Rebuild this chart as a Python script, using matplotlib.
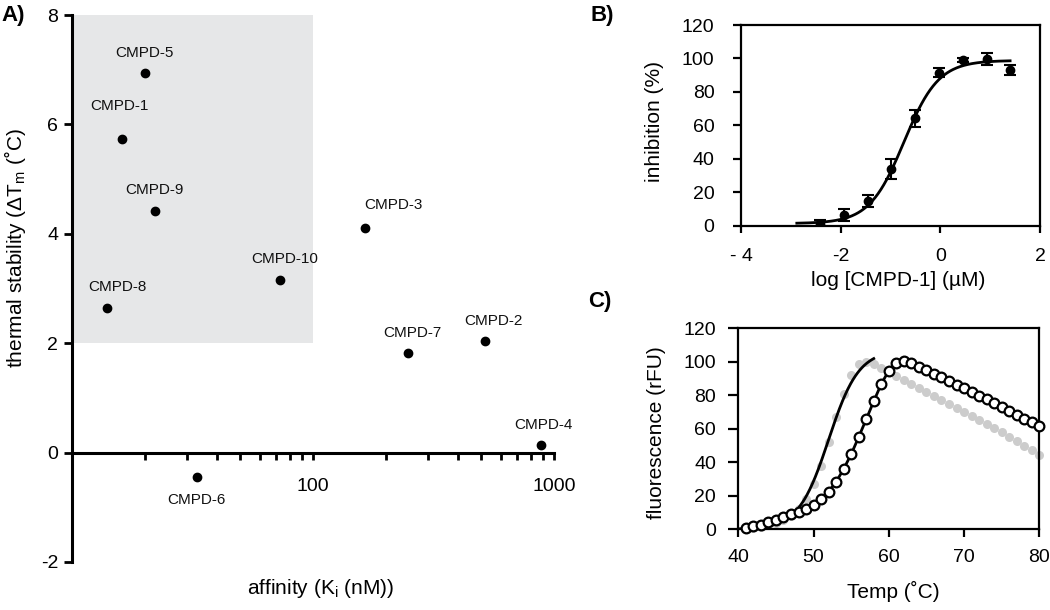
import numpy as np
import matplotlib
matplotlib.use("Agg")
import matplotlib.pyplot as plt
from matplotlib.ticker import FixedLocator, LogLocator, NullFormatter, FixedFormatter
from matplotlib.patches import Rectangle

plt.rcParams['font.family'] = ['Liberation Sans', 'DejaVu Sans']
plt.rcParams['axes.unicode_minus'] = False
plt.rcParams['mathtext.default'] = 'regular'

# ---------------- Panel A data ----------------
cmpd_names = ['CMPD-1', 'CMPD-2', 'CMPD-3', 'CMPD-4', 'CMPD-5',
              'CMPD-6', 'CMPD-7', 'CMPD-8', 'CMPD-9', 'CMPD-10']
ki_nM = [16.1, 515, 164, 881, 20.0, 33.1, 248, 14.0, 22.0, 73.0]
dtm_C = [5.74, 2.04, 4.11, 0.13, 6.94, -0.45, 1.82, 2.65, 4.42, 3.16]
label_offsets_px = [(-2, 33), (9, 20), (29, 23), (3, 20), (0, 20),
                    (-1, -23), (4, 20), (10, 21), (0, 21), (5, 21)]
shade_x = (10, 100)
shade_y = (2, 8)
a_yticks = [-2, 0, 2, 4, 6, 8]
a_xticks = [100, 1000]
a_xticklabels = ['100', '1000']

# ---------------- Panel B data ----------------
log_conc = [-2.41, -1.93, -1.46, -0.98, -0.50, -0.03, 0.45, 0.93, 1.40]
inhib = [1.0, 6.4, 14.8, 33.7, 64.2, 91.5, 99.1, 99.5, 93.1]
inhib_err = [2.5, 3.3, 3.7, 6.0, 5.0, 2.6, 1.0, 3.5, 3.0]
fit_b = dict(bottom=1.3, top=98.8, logic50=-0.73, hill=1.25, xmin=-2.88, xmax=1.40)
b_xticks = [-4, -2, 0, 2]
b_xticklabels = ['- 4', '-2', '0', '2']
b_yticks = [0, 20, 40, 60, 80, 100, 120]

# ---------------- Panel C data ----------------
temp = list(range(41, 81))
fluor_open = [1.0, 1.8, 2.8, 4.2, 5.8, 7.4, 9.0, 10.3, 12.3, 14.7,
              18.1, 22.5, 28.3, 36.0, 44.8, 55.1, 65.7, 76.4, 86.8, 94.7,
              99.5, 100.5, 99.1, 97.1, 95.1, 92.7, 90.7, 88.6, 86.4, 84.4,
              82.0, 79.6, 77.8, 75.6, 73.2, 70.6, 68.3, 66.1, 64.1, 61.9]
fluor_gray = [0.3, 0.8, 1.5, 2.5, 3.8, 5.5, 8.0, 12.0, 18.0, 27.0,
              38.0, 52.0, 67.0, 81.0, 92.0, 98.5, 100.0, 98.5, 96.3, 94.0,
              91.6, 89.3, 87.0, 84.6, 82.2, 79.8, 77.4, 75.0, 72.6, 70.2,
              67.8, 65.3, 62.8, 60.3, 57.8, 55.2, 52.6, 50.0, 47.3, 44.5]
open_fit_end = 62
fit_c = dict(bottom=0.0, top=107.0, tm=52.0, slope=2.0, xmin=40.0, xmax=58.0)
c_xticks = [40, 50, 60, 70, 80]
c_yticks = [0, 20, 40, 60, 80, 100, 120]

W, H = 1050, 610
fig = plt.figure(figsize=(W / 100, H / 100), dpi=100)


def rect(l, t, r, b):
    return [l / W, 1 - b / H, (r - l) / W, (b - t) / H]


def ftext(x, y, s, **kw):
    fig.text(x / W, 1 - y / H, s, ha='center', va='center', **kw)


# ================= Panel A =================
axA = fig.add_axes(rect(72, 15, 554, 562))
axA.set_xscale('log')
axA.set_xlim(10, 1000)
axA.set_ylim(-2, 8)
axA.add_patch(Rectangle((shade_x[0], shade_y[0]), shade_x[1] - shade_x[0],
                        shade_y[1] - shade_y[0], facecolor='#e6e7e8',
                        edgecolor='none', zorder=0))
axA.plot(ki_nM, dtm_C, 'o', color='black', ms=6, zorder=3, clip_on=False)
for name, x, y, off in zip(cmpd_names, ki_nM, dtm_C, label_offsets_px):
    axA.annotate(name, (x, y), xytext=off, textcoords='offset pixels',
                 ha='center', va='center', fontsize=11, color='#111111')
for s in ['top', 'right']:
    axA.spines[s].set_visible(False)
axA.spines['bottom'].set_position(('data', 0))
axA.spines['left'].set_linewidth(2.2)
axA.spines['bottom'].set_linewidth(2.2)
axA.xaxis.set_major_locator(FixedLocator(a_xticks))
axA.xaxis.set_major_formatter(FixedFormatter(a_xticklabels))
axA.xaxis.set_minor_locator(LogLocator(base=10, subs=range(2, 10)))
axA.xaxis.set_minor_formatter(NullFormatter())
axA.tick_params(axis='x', which='both', direction='out', length=5, width=2,
                labelsize=14, pad=13)
axA.set_yticks(a_yticks)
axA.set_yticklabels([str(v) for v in a_yticks])
axA.tick_params(axis='y', direction='out', length=6, width=2, labelsize=14, pad=4)
axA.patch.set_alpha(0)

ftext(15, 248, 'thermal stability (ΔT$_m$ (˚C)', rotation=90, fontsize=15)
ftext(321, 588, 'affinity (K$_i$ (nM))', fontsize=15)
ftext(13, 15, 'A)', fontsize=16, fontweight='bold')

# ================= Panel B =================
axB = fig.add_axes(rect(741, 25, 1040, 225.7))
axB.set_xlim(-4, 2)
axB.set_ylim(0, 120)
xf = np.linspace(fit_b['xmin'], fit_b['xmax'], 300)
yf = fit_b['bottom'] + (fit_b['top'] - fit_b['bottom']) / (
    1 + 10 ** ((fit_b['logic50'] - xf) * fit_b['hill']))
axB.plot(xf, yf, color='black', lw=2, zorder=3)
axB.errorbar(log_conc, inhib, yerr=inhib_err, fmt='o', color='black', ms=6,
             capsize=4, elinewidth=1.5, capthick=1.5, zorder=4)
for s in axB.spines.values():
    s.set_linewidth(1.6)
axB.set_xticks(b_xticks)
axB.set_xticklabels(b_xticklabels)
axB.set_yticks(b_yticks)
axB.tick_params(axis='x', direction='out', length=5, width=1.6, labelsize=14, pad=11)
axB.tick_params(axis='y', direction='out', length=6, width=1.6, labelsize=14, pad=13)
ftext(655, 122, 'inhibition (%)', rotation=90, fontsize=15)
ftext(898, 281, 'log [CMPD-1] (µM)', fontsize=15)
ftext(602, 15, 'B)', fontsize=16, fontweight='bold')

# ================= Panel C =================
axC = fig.add_axes(rect(738.3, 328.3, 1039.3, 529.3))
axC.set_xlim(40, 80)
axC.set_ylim(0, 120)
axC.plot(temp, fluor_gray, 'o', color='#cccccc', ms=6.5, mec='none', zorder=2,
         clip_on=False)
xc = np.linspace(fit_c['xmin'], fit_c['xmax'], 300)
yc = fit_c['bottom'] + (fit_c['top'] - fit_c['bottom']) / (
    1 + np.exp((fit_c['tm'] - xc) / fit_c['slope']))
axC.plot(xc, yc, color='black', lw=2, zorder=3)
n_fit = temp.index(open_fit_end) + 1
axC.plot(temp[:n_fit], fluor_open[:n_fit], color='black', lw=2, zorder=3)
axC.plot(temp, fluor_open, 'o', mfc='white', mec='black', mew=1.6, ms=7,
         zorder=4, clip_on=False)
for s in axC.spines.values():
    s.set_linewidth(1.6)
axC.set_xticks(c_xticks)
axC.set_yticks(c_yticks)
axC.tick_params(axis='x', direction='out', length=6, width=1.6, labelsize=14, pad=8)
axC.tick_params(axis='y', direction='out', length=7, width=1.6, labelsize=14, pad=9)
ftext(656, 433, 'fluorescence (rFU)', rotation=90, fontsize=15)
ftext(893, 591, 'Temp (˚C)', fontsize=15)
ftext(600, 301, 'C)', fontsize=16, fontweight='bold')

fig.savefig('out.png', dpi=100)
